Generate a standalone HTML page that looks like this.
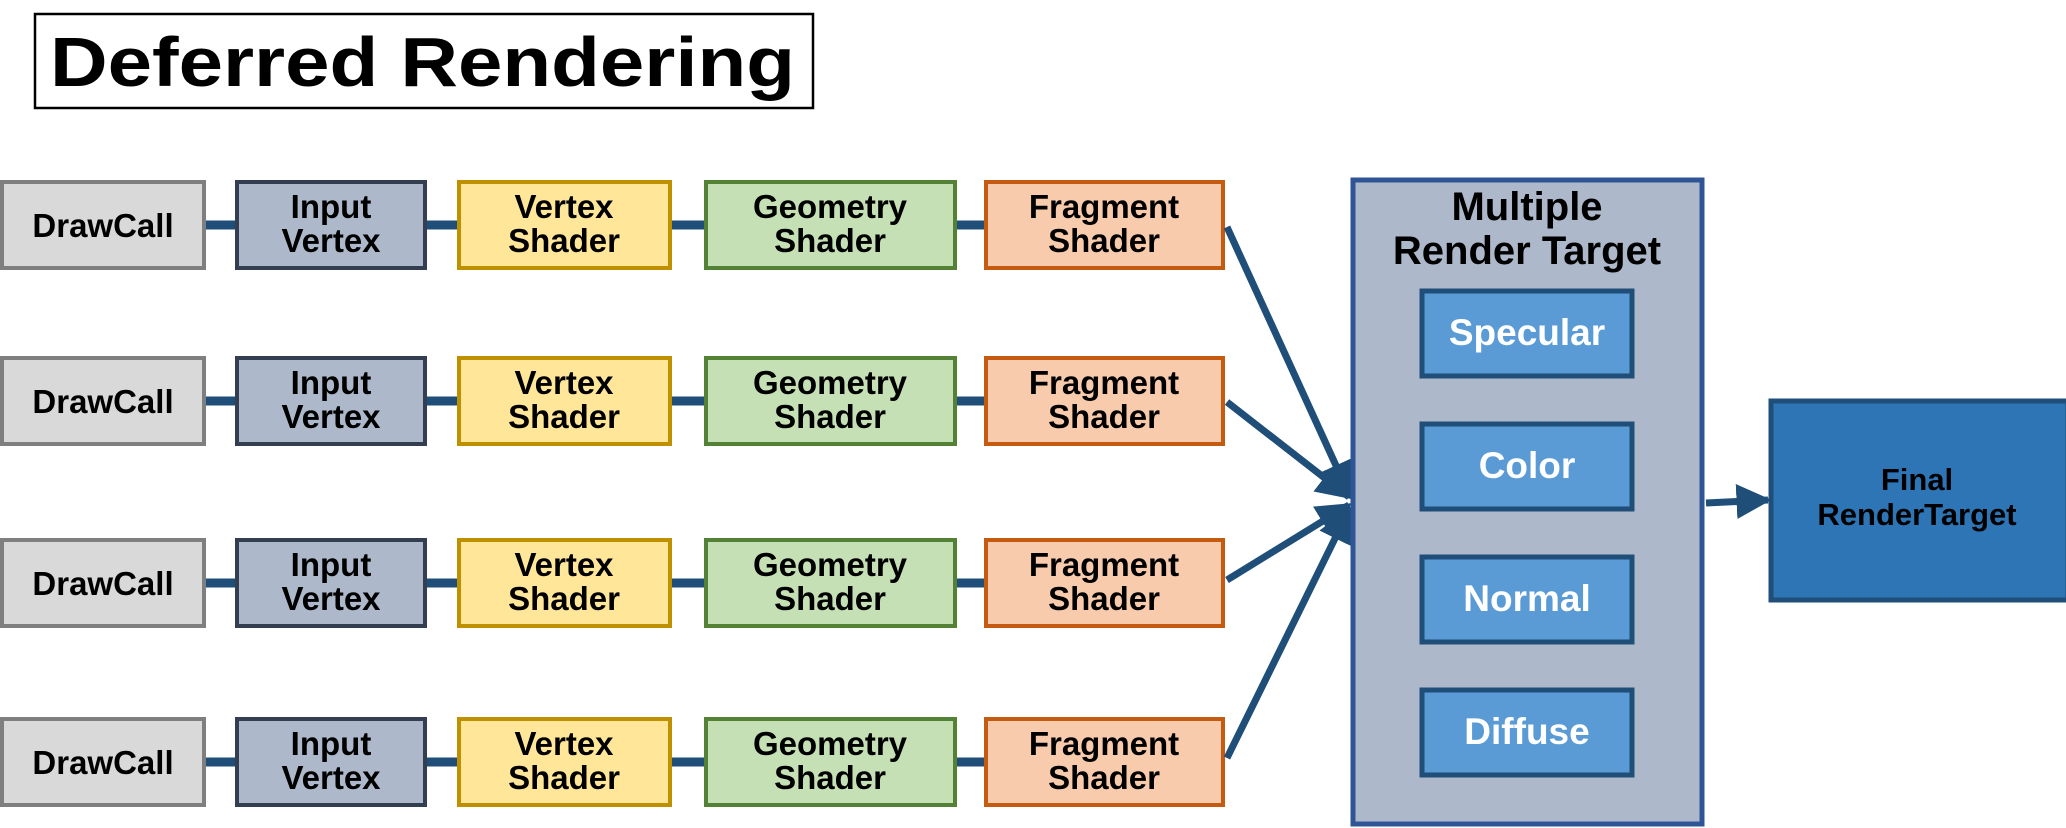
<!DOCTYPE html>
<html><head><meta charset="utf-8"><style>
html,body{margin:0;padding:0;background:#fff;width:2066px;height:828px;overflow:hidden}
text{font-family:"Liberation Sans",sans-serif;font-weight:bold}
</style></head><body>
<svg width="2066" height="828" viewBox="0 0 2066 828" xmlns="http://www.w3.org/2000/svg">
<defs>
<marker id="ah" markerWidth="5" markerHeight="5" refX="4.5" refY="2.5" orient="auto" markerUnits="strokeWidth">
<path d="M0,0 L5,2.5 L0,5 z" fill="#1f4e79"/></marker>
</defs>
<rect x="35" y="14" width="778" height="94" fill="#fff" stroke="#000" stroke-width="2.5"/>
<text x="50" y="86" font-size="70" textLength="745" lengthAdjust="spacingAndGlyphs">Deferred Rendering</text>

<g stroke="#1f4e79" stroke-width="9">
<line x1="206" y1="225" x2="984" y2="225"/>
<line x1="206" y1="401" x2="984" y2="401"/>
<line x1="206" y1="583" x2="984" y2="583"/>
<line x1="206" y1="762" x2="984" y2="762"/>
</g>
<g stroke-width="4">
<g fill="#d9d9d9" stroke="#7f7f7f">
<rect x="2" y="182" width="202" height="86"/><rect x="2" y="358" width="202" height="86"/><rect x="2" y="540" width="202" height="86"/><rect x="2" y="719" width="202" height="86"/></g>
<g fill="#adb9ca" stroke="#333f50">
<rect x="237" y="182" width="188" height="86"/><rect x="237" y="358" width="188" height="86"/><rect x="237" y="540" width="188" height="86"/><rect x="237" y="719" width="188" height="86"/></g>
<g fill="#ffe699" stroke="#bf9000">
<rect x="459" y="182" width="211" height="86"/><rect x="459" y="358" width="211" height="86"/><rect x="459" y="540" width="211" height="86"/><rect x="459" y="719" width="211" height="86"/></g>
<g fill="#c5e0b4" stroke="#538135">
<rect x="706" y="182" width="249" height="86"/><rect x="706" y="358" width="249" height="86"/><rect x="706" y="540" width="249" height="86"/><rect x="706" y="719" width="249" height="86"/></g>
<g fill="#f8cbad" stroke="#c55a11">
<rect x="986" y="182" width="237" height="86"/><rect x="986" y="358" width="237" height="86"/><rect x="986" y="540" width="237" height="86"/><rect x="986" y="719" width="237" height="86"/></g>
</g>
<g font-size="33" text-anchor="middle" fill="#000">
<text x="103" y="237">DrawCall</text><text x="103" y="413">DrawCall</text><text x="103" y="595">DrawCall</text><text x="103" y="774">DrawCall</text>
<text x="331" y="218">Input</text><text x="331" y="252">Vertex</text>
<text x="331" y="394">Input</text><text x="331" y="428">Vertex</text>
<text x="331" y="576">Input</text><text x="331" y="610">Vertex</text>
<text x="331" y="755">Input</text><text x="331" y="789">Vertex</text>
<text x="564" y="218">Vertex</text><text x="564" y="252">Shader</text>
<text x="564" y="394">Vertex</text><text x="564" y="428">Shader</text>
<text x="564" y="576">Vertex</text><text x="564" y="610">Shader</text>
<text x="564" y="755">Vertex</text><text x="564" y="789">Shader</text>
<text x="830" y="218">Geometry</text><text x="830" y="252">Shader</text>
<text x="830" y="394">Geometry</text><text x="830" y="428">Shader</text>
<text x="830" y="576">Geometry</text><text x="830" y="610">Shader</text>
<text x="830" y="755">Geometry</text><text x="830" y="789">Shader</text>
<text x="1104" y="218">Fragment</text><text x="1104" y="252">Shader</text>
<text x="1104" y="394">Fragment</text><text x="1104" y="428">Shader</text>
<text x="1104" y="576">Fragment</text><text x="1104" y="610">Shader</text>
<text x="1104" y="755">Fragment</text><text x="1104" y="789">Shader</text>
</g>
<g stroke="#1f4e79" stroke-width="7" marker-end="url(#ah)">
<line x1="1227" y1="227" x2="1349" y2="494"/>
<line x1="1227" y1="402" x2="1349" y2="497"/>
<line x1="1227" y1="580" x2="1349" y2="505"/>
<line x1="1227" y1="758" x2="1349" y2="510"/>
<line x1="1706" y1="503" x2="1768" y2="500"/>
</g>
<rect x="1353" y="180" width="349" height="644" fill="#adb9ca" stroke="#2f5597" stroke-width="5"/>
<text x="1527" y="220" font-size="40" text-anchor="middle">Multiple</text>
<text x="1527" y="264" font-size="40" text-anchor="middle">Render Target</text>
<g fill="#5b9bd5" stroke="#1f4e79" stroke-width="5">
<rect x="1422" y="291" width="210" height="85"/>
<rect x="1422" y="424" width="210" height="85"/>
<rect x="1422" y="557" width="210" height="85"/>
<rect x="1422" y="690" width="210" height="85"/>
</g>
<g font-size="37" fill="#fff" text-anchor="middle">
<text x="1527" y="345">Specular</text>
<text x="1527" y="478">Color</text>
<text x="1527" y="611">Normal</text>
<text x="1527" y="744">Diffuse</text>
</g>
<rect x="1771" y="401" width="297" height="199" fill="#2e75b6" stroke="#1f4e79" stroke-width="5"/>
<g font-size="31" text-anchor="middle" fill="#000">
<text x="1917" y="490">Final</text>
<text x="1917" y="525">RenderTarget</text>
</g>
</svg>
</body></html>
